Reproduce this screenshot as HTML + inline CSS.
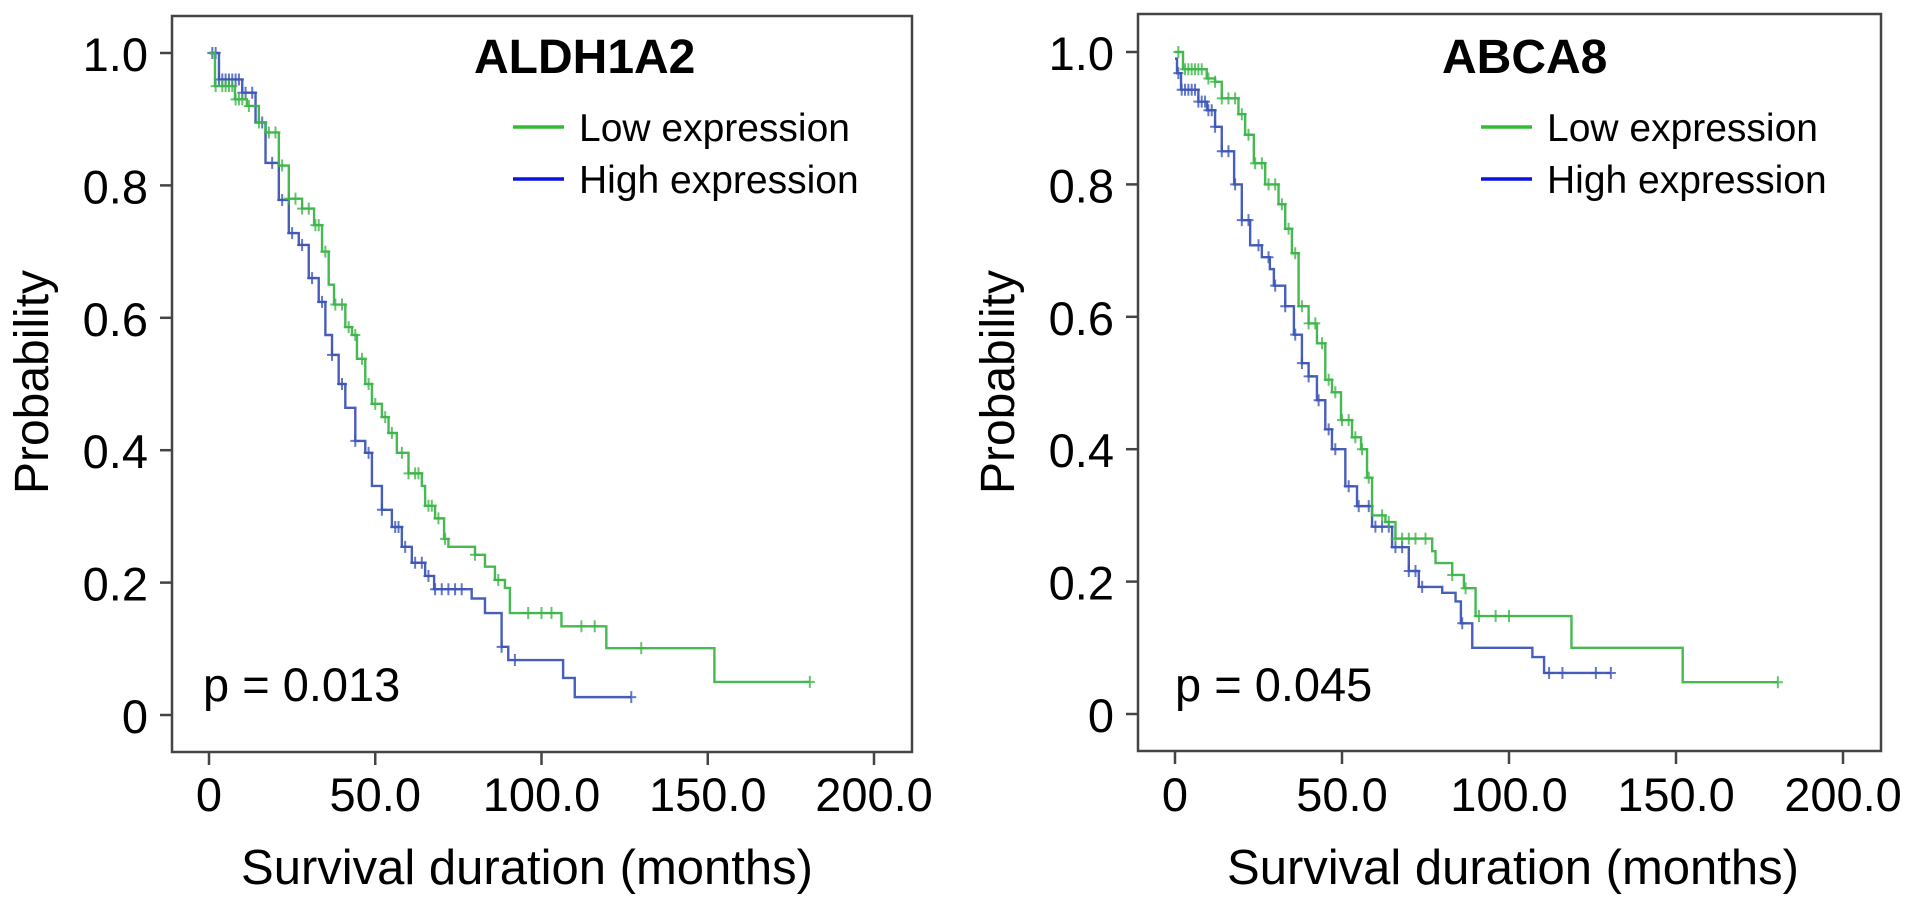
<!DOCTYPE html>
<html><head><meta charset="utf-8">
<style>
html,body{margin:0;padding:0;background:#fff;}
svg{display:block;font-family:"Liberation Sans",Arial,sans-serif;}
</style></head>
<body>
<svg id="chart" width="1913" height="908" viewBox="0 0 1913 908" xmlns="http://www.w3.org/2000/svg"></svg>
<script>
// ---- Shared axes ----
const xTicks = [0, 50, 100, 150, 200];
const xTickLabels = ["0", "50.0", "100.0", "150.0", "200.0"];
const yTicks = [0, 0.2, 0.4, 0.6, 0.8, 1.0];
const yTickLabels = ["0", "0.2", "0.4", "0.6", "0.8", "1.0"];

// ---- Data: ALDH1A2 (left panel) ----
const aLowT = [0,1.8,7.8,11.4,15,17,21,24,28,31.6,34,36,37.6,41,43,44.5,47,49,52,54,56.5,60,64,65,68,70.7,72,80,83,86,89,90.5,106,119.5,152];
const aLowS = [1.0,0.95,0.93,0.92,0.895,0.88,0.83,0.78,0.765,0.74,0.70,0.65,0.62,0.586,0.574,0.538,0.50,0.47,0.45,0.426,0.396,0.365,0.346,0.316,0.297,0.266,0.254,0.242,0.224,0.204,0.192,0.154,0.134,0.101,0.05];
const aLowEnd = 180.7;
const aLowC = [2,4,5,6,7,8,9,10,12,15,18,20,22,24,26,28,30,32,33,35,38,40,42,44,46,48,50,53,55,58,60,62,63,66,67,69,71,80,87,96,100,103,112,116,130,180.7];

const aHighT = [0,3,10,14,17,21,24,27,30,33,35,37,39,41,44,47,49,52,55,58,61,65,67.7,79,83,88,90,106.5,110];
const aHighS = [1.0,0.96,0.94,0.895,0.834,0.778,0.728,0.71,0.66,0.624,0.574,0.544,0.50,0.464,0.414,0.396,0.346,0.31,0.284,0.254,0.23,0.21,0.19,0.176,0.154,0.103,0.083,0.056,0.027];
const aHighEnd = 127;
const aHighC = [1,2,3,4,5,6,7,8,9,10,11,13,16,19,22,25,28,31,34,37,40,44,48,52,56,57,59,62,64,66,68,70,72,74,76,88,92,127];

// ---- Data: ABCA8 (right panel) ----
const bLowT = [0,2.4,9.5,12,14,19,21,23.6,27,31,33,35,37,40,42.5,45,47,49.7,53,55.7,57.5,59,63,66,77,78,83,86.5,90,118.7,152];
const bLowS = [1.0,0.974,0.96,0.955,0.93,0.906,0.875,0.832,0.80,0.77,0.733,0.696,0.616,0.59,0.56,0.505,0.486,0.444,0.418,0.40,0.357,0.30,0.29,0.265,0.246,0.228,0.21,0.19,0.148,0.10,0.048];
const bLowEnd = 180.5;
const bLowC = [1,3,4,5,6,7,8,10,12,14,16,18,20,22,24,26,28,30,32,34,36,38,40,42,44,46,48,50,52,54,56,58,62,64,66,68,70,72,75,83,87,91,96,100,180.5];

const bHighT = [0,0.6,1.8,7,9.6,12,14,17.7,20,22.5,26,28.4,29.6,33,35.6,38,40,42.5,45,47,51,54.5,59,65,70,73,80,84,85.6,89,107,110.5];
const bHighS = [0.99,0.968,0.943,0.925,0.912,0.887,0.85,0.80,0.746,0.708,0.69,0.672,0.647,0.616,0.573,0.53,0.51,0.474,0.43,0.40,0.344,0.314,0.283,0.252,0.216,0.192,0.183,0.17,0.137,0.10,0.086,0.062];
const bHighEnd = 130.5;
const bHighC = [1,2,3,4,5,6,7,8,9,10,11,12,14,16,18,20,22,25,28,30,33,36,38,40,43,46,48,52,55,58,60,62,64,66,68,70,72,74,86,112,116,126,130.5];

const NS = "http://www.w3.org/2000/svg";
const svg = document.getElementById("chart");
function mk(tag, attrs, parent){
  const e = document.createElementNS(NS, tag);
  for (const k in attrs) e.setAttribute(k, attrs[k]);
  (parent||svg).appendChild(e);
  return e;
}
function survAt(T,S,t){ let s=S[0]; for(let i=0;i<T.length;i++){ if(T[i]<=t) s=S[i]; } return s; }

function panel(cfg){
  const g = mk("g", {});
  
  
  const X = v => cfg.x0 + (v/200)*(cfg.x200 - cfg.x0);
  const Y = v => cfg.y0 - v*(cfg.y0 - cfg.y1);
  const box = mk("rect", {x:cfg.bl, y:cfg.bt, width:cfg.br-cfg.bl, height:cfg.bb-cfg.bt, fill:"none", stroke:"#444", "stroke-width":2.5}, g);
  
  
  yTicks.forEach((v,i)=>{
    const t = mk("line", {x1:cfg.bl-12, x2:cfg.bl, y1:Y(v), y2:Y(v), stroke:"#444","stroke-width":2.5}, g);
    
    
    const l = mk("text", {x:cfg.bl-24, y:Y(v)+18, "text-anchor":"end", "font-size":47, fill:"#000"}, g);
    l.textContent = yTickLabels[i];
    
    
  });
  xTicks.forEach((v,i)=>{
    const t = mk("line", {x1:X(v), x2:X(v), y1:cfg.bb, y2:cfg.bb+13, stroke:"#444","stroke-width":2.5}, g);
    
    
    const l = mk("text", {x:X(v), y:811, "text-anchor":"middle", "font-size":47, fill:"#000"}, g);
    l.textContent = xTickLabels[i];
    
    
  });
  const xt = mk("text", {x:cfg.xtc, y:884, "text-anchor":"middle", "font-size":49, fill:"#000", textLength:572, lengthAdjust:"spacingAndGlyphs"}, g);
  xt.textContent = "Survival duration (months)";
  
  
  const yt = mk("text", {x:0, y:0, "text-anchor":"middle", "font-size":48, fill:"#000", transform:`translate(${cfg.ytx},382) rotate(-90)`}, g);
  yt.textContent = "Probability";
  
  
  const ti = mk("text", {x:cfg.tx, y:73, "font-size":48, "font-weight":"bold", fill:"#000"}, g);
  ti.textContent = cfg.title;
  
  
  const pv = mk("text", {x:cfg.px, y:701, "font-size":47, fill:"#000"}, g);
  pv.textContent = cfg.p;
  
  
  [["Low expression","#33bb33",127],["High expression","#0a12dd",179]].forEach(([lab,col,yy])=>{
    const le = mk("g", {}, g);
    
    
    mk("line", {x1:cfg.lx, x2:cfg.lx+51, y1:yy, y2:yy, stroke:col, "stroke-width":3.5}, le);
    const t = mk("text", {x:cfg.lx+66, y:yy+14, "font-size":39, fill:"#000"}, le);
    t.textContent = lab;
  });
  function curve(T,S,end,C,col,name){
    let d = `M${X(T[0])},${Y(S[0])}`;
    for(let i=1;i<T.length;i++){ d += ` H${X(T[i])} V${Y(S[i])}`; }
    d += ` H${X(end)}`;
    const p = mk("path", {d:d, fill:"none", stroke:col, "stroke-width":2.4, opacity:0.95}, g);
    
    
    let cd = "";
    C.forEach(t=>{ const cx=X(t), cy=Y(survAt(T,S,t)); cd += `M${cx-5},${cy}H${cx+5}M${cx},${cy-6}V${cy+6}`; });
    const cm = mk("path", {d:cd, fill:"none", stroke:col, "stroke-width":2, opacity:0.8}, g);
    
    
  }
  curve(cfg.hT,cfg.hS,cfg.hE,cfg.hC,"#3d55b6","high-expression-curve");
  curve(cfg.lT,cfg.lS,cfg.lE,cfg.lC,"#3db54a","low-expression-curve");
}

panel({name:"aldh1a2", title:"ALDH1A2", p:"p = 0.013",
  bl:172, br:912, bt:16, bb:752, x0:209, x200:874, y0:715, y1:53,
  xtc:527, ytx:48, tx:474, px:203, lx:513,
  lT:aLowT, lS:aLowS, lE:aLowEnd, lC:aLowC, hT:aHighT, hS:aHighS, hE:aHighEnd, hC:aHighC});
panel({name:"abca8", title:"ABCA8", p:"p = 0.045",
  bl:1138, br:1881, bt:14, bb:751, x0:1175, x200:1843, y0:714, y1:52,
  xtc:1513, ytx:1014, tx:1442, px:1175, lx:1481,
  lT:bLowT, lS:bLowS, lE:bLowEnd, lC:bLowC, hT:bHighT, hS:bHighS, hE:bHighEnd, hC:bHighC});
</script>
</body></html>
